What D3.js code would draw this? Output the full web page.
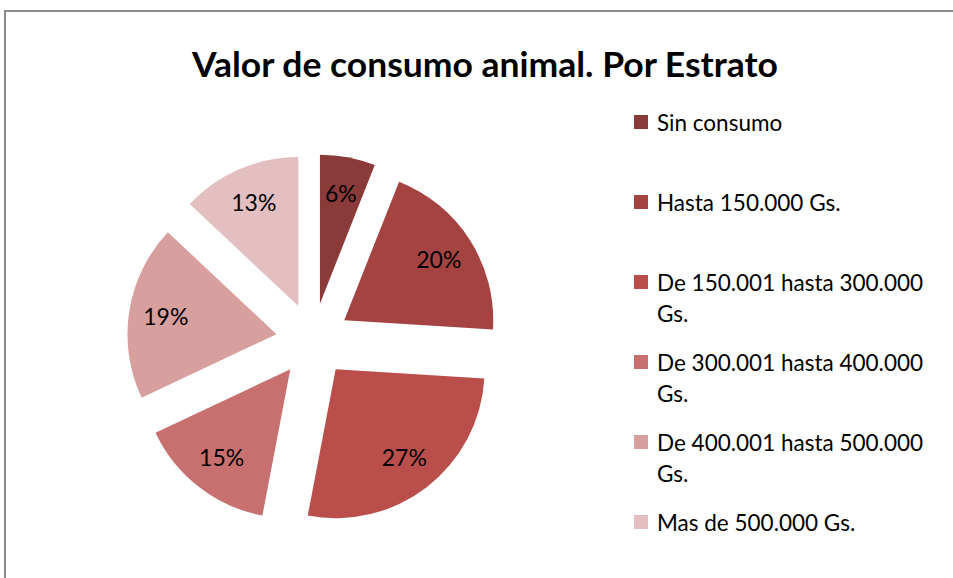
<!DOCTYPE html>
<html>
<head>
<meta charset="utf-8">
<script src="https://cdn.jsdelivr.net/npm/d3@7"></script>
<style>
  body { margin: 0; background: #fff; }
  svg { display: block; }
</style>
</head>
<body>
<div id="chart"></div>
<script>
// Valor de consumo animal por estrato - exploded pie

const categories = [
  "Sin consumo",
  "Hasta 150.000 Gs.",
  "De 150.001 hasta 300.000 Gs.",
  "De 300.001 hasta 400.000 Gs.",
  "De 400.001 hasta 500.000 Gs.",
  "Mas de 500.000 Gs."
];
const values = [6, 20, 27, 15, 19, 13];
const colors = ["#8B3A3A", "#A54343", "#B94E4B", "#C8706F", "#D89F9F", "#E3BFC1"];

const width = 953, height = 578;
const cx = 313, cy = 340,
      radius = 149,
      explode = 37,
      labelRadius = 112;

const data = categories.map((c, i) => ({ name: c, value: values[i] }));

const svg = d3.select("#chart")
  .append("svg")
  .attr("width", width)
  .attr("height", height);

// outer frame (runs off the right and bottom edges)
svg.append("rect")
  .attr("x", 5)
  .attr("y", 11)
  .attr("width", width + 20)
  .attr("height", height + 20)
  .attr("fill", "none")
  .attr("stroke", "#8c8c8c")
  .attr("stroke-width", 2);

svg.append("text")
  .attr("x", 485)
  .attr("y", 77)
  .attr("text-anchor", "middle")
  .attr("font-family", "Lato, sans-serif")
  .attr("font-weight", "bold")
  .attr("font-size", 34)
  .attr("textLength", 586)
  .attr("lengthAdjust", "spacingAndGlyphs")
  .attr("fill", "#000")
  .text("Valor de consumo animal. Por Estrato");

const arcs = d3.pie().sort(null).value(d => d.value)(data);
const arc = d3.arc().innerRadius(0).outerRadius(radius);
const arcLabel = d3.arc().innerRadius(labelRadius).outerRadius(labelRadius);

// shift each slice out along its middle angle
const offset = d => {
  const a = (d.startAngle + d.endAngle) / 2;
  return [explode * Math.sin(a), -explode * Math.cos(a)];
};

const slices = svg.append("g")
  .attr("transform", `translate(${cx},${cy})`)
  .selectAll("g")
  .data(arcs)
  .join("g")
  .attr("transform", d => `translate(${offset(d)})`);

slices.append("path")
  .attr("fill", (d, i) => colors[i])
  .attr("d", arc);

slices.append("text")
  .attr("transform", d => `translate(${arcLabel.centroid(d)})`)
  .attr("text-anchor", "middle")
  .attr("dy", "0.35em")
  .attr("font-family", "Lato, sans-serif")
  .attr("font-size", 23)
  .attr("fill", "#000")
  .text(d => d.data.value + "%");

// legend
const legend = svg.append("g")
  .selectAll("g")
  .data(data)
  .join("g")
  .attr("transform", (d, i) => `translate(634, ${131 + i * 80})`);

legend.append("rect")
  .attr("x", 0)
  .attr("y", -16)
  .attr("width", 14)
  .attr("height", 14)
  .attr("fill", (d, i) => colors[i]);

legend.append("text")
  .attr("x", 23)
  .attr("y", 0)
  .attr("font-family", "Lato, sans-serif")
  .attr("font-size", 22.5)
  .attr("fill", "#000")
  .each(function(d) {
    const text = d3.select(this);
    const maxWidth = 282;
    const words = d.name.split(" ");
    let line = [];
    let lineNo = 0;
    let tspan = text.append("tspan").attr("x", 23).attr("y", 0);
    words.forEach(w => {
      line.push(w);
      tspan.text(line.join(" "));
      if (tspan.node().getComputedTextLength() > maxWidth && line.length > 1) {
        line.pop();
        tspan.text(line.join(" "));
        line = [w];
        lineNo++;
        tspan = text.append("tspan").attr("x", 23).attr("y", lineNo * 31).text(w);
      }
    });
  });
</script>
</body>
</html>
